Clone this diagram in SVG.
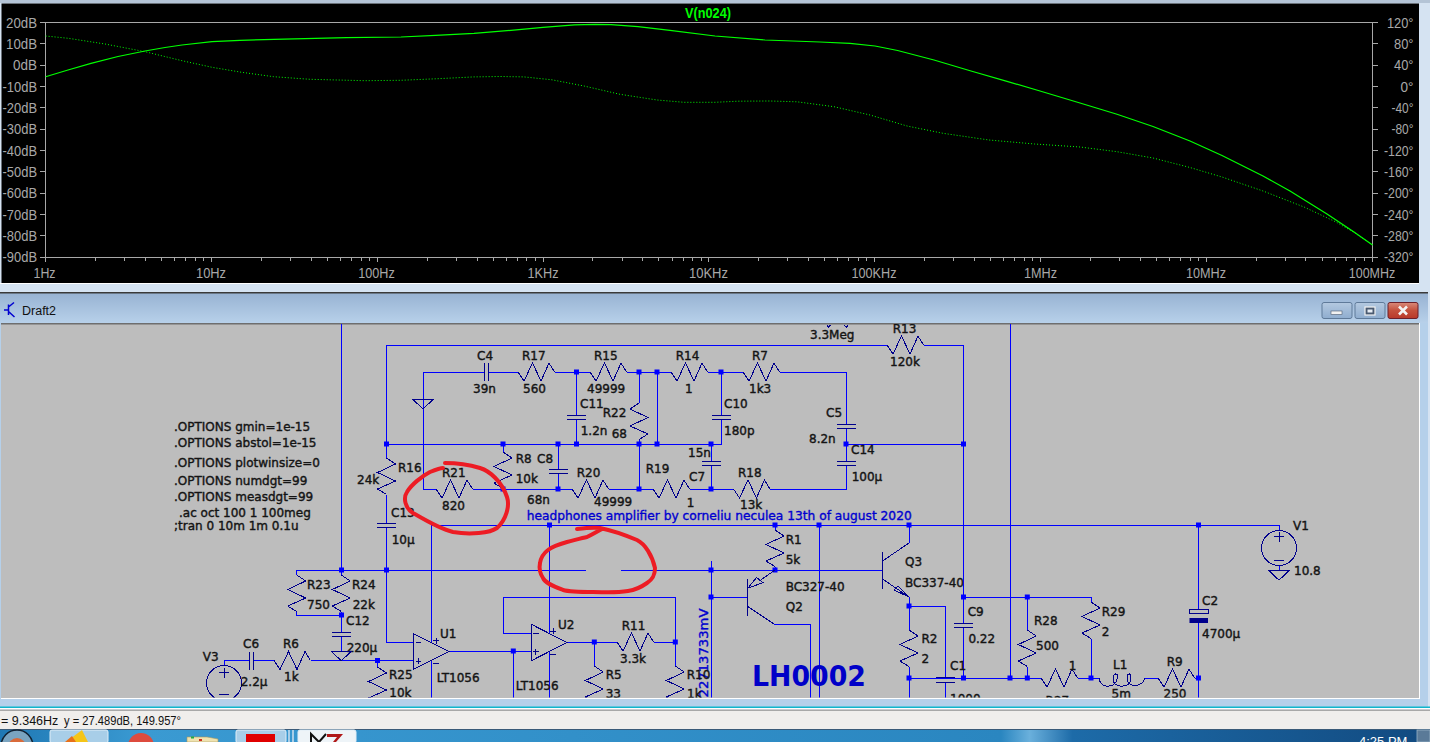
<svg xmlns="http://www.w3.org/2000/svg" width="1430" height="742" viewBox="0 0 1430 742">
<style>
.w{fill:none;stroke:#0000ff;stroke-width:1;shape-rendering:crispEdges}
.c{fill:none;stroke:#00008c;stroke-width:1;shape-rendering:crispEdges}
.t{font-family:"DejaVu Sans",sans-serif;font-size:12px;fill:#141414;stroke:#141414;stroke-width:.4}
.b{font-family:"DejaVu Sans",sans-serif;font-size:12px;fill:#0000d0;stroke:#0000d0;stroke-width:.35}
.a{font-family:"Liberation Sans",Arial,sans-serif;font-size:14px;fill:#a8a8a8}
.ax{fill:none;stroke:#a8a8a8;stroke-width:1;shape-rendering:crispEdges}
.u{font-family:"Liberation Sans",Arial,sans-serif;font-size:12.5px;fill:#111}
.red{fill:none;stroke:#ed1c24;stroke-width:4;stroke-linejoin:round;stroke-linecap:round}
.n{fill:#0000ff}
</style>
<defs>
<linearGradient id="tb" x1="0" y1="0" x2="0" y2="1"><stop offset="0" stop-color="#98b3d3"/><stop offset="1" stop-color="#b8d1ea"/></linearGradient>
<linearGradient id="tk" x1="0" y1="0" x2="1" y2="0"><stop offset="0" stop-color="#1f78b4"/><stop offset=".1" stop-color="#3a9ad2"/><stop offset=".7" stop-color="#2a86c0"/><stop offset=".72" stop-color="#6ab0dc"/><stop offset=".75" stop-color="#1d6ba8"/><stop offset="1" stop-color="#124a80"/></linearGradient>
<linearGradient id="cl" x1="0" y1="0" x2="0" y2="1"><stop offset="0" stop-color="#d98a7a"/><stop offset=".5" stop-color="#c4503c"/><stop offset="1" stop-color="#b8382a"/></linearGradient>
<linearGradient id="bt" x1="0" y1="0" x2="0" y2="1"><stop offset="0" stop-color="#b4c9e0"/><stop offset="1" stop-color="#8fadcf"/></linearGradient>
<path id="rh" class="c" d="M0 0L6 9L14.500-9L23 9L31-9L36.500 0"/>
<path id="rv" class="c" d="M0 0L9 6L-9 14.500L9 23L-9 31L0 36.500"/>
<path id="ch" class="c" d="M-9.500-2H9.500M-9.500 2.200H9.500"/>
<rect id="n" class="n" x="-2.500" y="-2.500" width="5" height="5"/>
<path id="gnd" class="c" d="M-10 0H10L0 9.500Z"/>
<g id="dec" class="ax"><path d="M0 257V262M49.900 257V261M79.100 257V261M99.800 257V261M115.900 257V261M129 257V261M140.100 257V261M149.700 257V261M158.200 257V261"/></g>
<clipPath id="sc"><rect x="1" y="324" width="1418" height="373.500"/></clipPath>
</defs>

<rect width="1430" height="742" fill="#d5e3f2"/>
<rect width="1430" height="3" fill="#b4c4d6"/>

<g id="plot">
<rect x="1.500" y="3.500" width="1417.500" height="279.500" fill="#000"/>
<rect x="0" y="283" width="1419" height="1" fill="#fff"/>
<path class="ax" d="M45.600 22.500H1372.500M45.600 22.500V257M1372.500 22.500V257M45.600 257H1372.500"/>
<path class="ax" d="M40 22.500H45.600M40 43.800H45.600M40 65.200H45.600M40 86.500H45.600M40 107.800H45.600M40 129.200H45.600M40 150.500H45.600M40 171.800H45.600M40 193.200H45.600M40 214.500H45.600M40 235.800H45.600M40 257H45.600"/>
<path class="ax" d="M1372.500 22.500H1378M1372.500 43.800H1378M1372.500 65.200H1378M1372.500 86.500H1378M1372.500 107.800H1378M1372.500 129.200H1378M1372.500 150.500H1378M1372.500 171.800H1378M1372.500 193.200H1378M1372.500 214.500H1378M1372.500 235.800H1378M1372.500 257H1378"/>
<use href="#dec" x="45.600"/><use href="#dec" x="211.400"/><use href="#dec" x="377.200"/><use href="#dec" x="543"/><use href="#dec" x="708.800"/><use href="#dec" x="874.600"/><use href="#dec" x="1040.400"/><use href="#dec" x="1206.200"/>
<path class="ax" d="M1372.500 257V262"/>
<g class="a" text-anchor="end">
<text x="37" y="27.500" textLength="31" lengthAdjust="spacingAndGlyphs">20dB</text>
<text x="37" y="48.800" textLength="31" lengthAdjust="spacingAndGlyphs">10dB</text>
<text x="37" y="70.200" textLength="24" lengthAdjust="spacingAndGlyphs">0dB</text>
<text x="37" y="91.500" textLength="34.500" lengthAdjust="spacingAndGlyphs">-10dB</text>
<text x="37" y="112.800" textLength="34.500" lengthAdjust="spacingAndGlyphs">-20dB</text>
<text x="37" y="134.200" textLength="34.500" lengthAdjust="spacingAndGlyphs">-30dB</text>
<text x="37" y="155.500" textLength="34.500" lengthAdjust="spacingAndGlyphs">-40dB</text>
<text x="37" y="176.800" textLength="34.500" lengthAdjust="spacingAndGlyphs">-50dB</text>
<text x="37" y="198.200" textLength="34.500" lengthAdjust="spacingAndGlyphs">-60dB</text>
<text x="37" y="219.500" textLength="34.500" lengthAdjust="spacingAndGlyphs">-70dB</text>
<text x="37" y="240.800" textLength="34.500" lengthAdjust="spacingAndGlyphs">-80dB</text>
<text x="37" y="262" textLength="34.500" lengthAdjust="spacingAndGlyphs">-90dB</text>
<text x="1413.500" y="27.500" textLength="26.500" lengthAdjust="spacingAndGlyphs">120°</text>
<text x="1413.500" y="48.800" textLength="19.500" lengthAdjust="spacingAndGlyphs">80°</text>
<text x="1413.500" y="70.200" textLength="19.500" lengthAdjust="spacingAndGlyphs">40°</text>
<text x="1413.500" y="91.500" textLength="13" lengthAdjust="spacingAndGlyphs">0°</text>
<text x="1413.500" y="112.800" textLength="22" lengthAdjust="spacingAndGlyphs">-40°</text>
<text x="1413.500" y="134.200" textLength="22" lengthAdjust="spacingAndGlyphs">-80°</text>
<text x="1413.500" y="155.500" textLength="29.500" lengthAdjust="spacingAndGlyphs">-120°</text>
<text x="1413.500" y="176.800" textLength="29.500" lengthAdjust="spacingAndGlyphs">-160°</text>
<text x="1413.500" y="198.200" textLength="29.500" lengthAdjust="spacingAndGlyphs">-200°</text>
<text x="1413.500" y="219.500" textLength="29.500" lengthAdjust="spacingAndGlyphs">-240°</text>
<text x="1413.500" y="240.800" textLength="29.500" lengthAdjust="spacingAndGlyphs">-280°</text>
<text x="1413.500" y="262" textLength="29.500" lengthAdjust="spacingAndGlyphs">-320°</text>
</g>
<g class="a" text-anchor="middle">
<text x="44.500" y="278" textLength="22" lengthAdjust="spacingAndGlyphs">1Hz</text>
<text x="211" y="278" textLength="30" lengthAdjust="spacingAndGlyphs">10Hz</text>
<text x="376.500" y="278" textLength="36.500" lengthAdjust="spacingAndGlyphs">100Hz</text>
<text x="543" y="278" textLength="31" lengthAdjust="spacingAndGlyphs">1KHz</text>
<text x="708.500" y="278" textLength="39" lengthAdjust="spacingAndGlyphs">10KHz</text>
<text x="874" y="278" textLength="45" lengthAdjust="spacingAndGlyphs">100KHz</text>
<text x="1040.500" y="278" textLength="33" lengthAdjust="spacingAndGlyphs">1MHz</text>
<text x="1206" y="278" textLength="40" lengthAdjust="spacingAndGlyphs">10MHz</text>
<text x="1372" y="278" textLength="46.500" lengthAdjust="spacingAndGlyphs">100MHz</text>
</g>
<text x="708" y="17.500" text-anchor="middle" font-family="Liberation Sans,Arial,sans-serif" font-size="14" font-weight="bold" fill="#00ff00" textLength="46" lengthAdjust="spacingAndGlyphs">V(n024)</text>
<path fill="none" stroke="#00ff00" stroke-width="1.200" stroke-linejoin="round" d="M45.600 76.700L68 70L91 63.300L118 56.500L145 51L165 47.500L182 45L212 41.700L240 40.300L274 39.300L346.500 37.700L401 37L435.500 35.300L474 33.300L511 30.300L543 27.300L574.500 24.900L595 24.400L611 24.700L638 26.700L670 30.300L715 36L765 40L820 42L850 43.300L875 46L897.600 50.500L934 60L971 71L1007 81.300L1040 91L1080 103L1117 114.300L1153 126.500L1190 141L1222 155.500L1263 176L1290 191L1327 214L1354 232L1372.500 245"/>
<path fill="none" stroke="#00ff00" stroke-width="1" stroke-dasharray="1 2" d="M45.600 36L68.400 38.300L105 44L145 51.700L182 60.700L212 67.300L241.700 72.300L273.600 76.700L310 79.300L365 80.700L401 80.300L438 78.700L474 76.900L500 76.500L524 76.900L552 79.800L584 86L620 94.300L657 100L684 102.300L715 102.300L738 101.200L770 101L797 101.800L834 106.700L870 115L907 126L943 133.300L989 140L1034.600 144L1080 147L1117 151.700L1153 158L1190 167.500L1222 177L1263 191L1304 207L1336 222L1355 233L1372.500 245"/>
</g>

<g id="window">
<rect x="0" y="292" width="1428" height="2" fill="#3a3a3a"/>
<rect x="0" y="293.500" width="1428" height="30" fill="url(#tb)"/>
<rect x="0" y="323" width="1428" height="384" fill="#b5d0ea"/>
<rect x="1" y="323" width="1419" height="376" fill="#fff"/>
<rect x="1" y="323" width="1418" height="375" fill="#bdbdbd"/>
<rect x="1" y="323" width="1418" height="1.500" fill="#6e6e6e"/>
<rect x="1428" y="293" width="2" height="415" fill="#d5e3f2"/>
<path d="M8.500 304.500V315M4 310H8.500M8.500 307L14 302.500M8.500 311.500L14.500 317" fill="none" stroke="#0000d0" stroke-width="1.500"/>
<text x="22" y="315" font-family="Liberation Sans,Arial,sans-serif" font-size="12.500" fill="#111">Draft2</text>
<rect x="1322" y="302.500" width="30" height="16" rx="2" fill="url(#bt)" stroke="#5f7a99"/>
<rect x="1355" y="302.500" width="30" height="16" rx="2" fill="url(#bt)" stroke="#5f7a99"/>
<rect x="1388" y="302.500" width="30" height="16" rx="2" fill="url(#cl)" stroke="#6b1f2a"/>
<rect x="1331" y="311" width="11" height="3.500" fill="#f2f2f2" stroke="#4a5a70" stroke-width=".6"/>
<rect x="1365" y="307" width="10" height="8" fill="#4a5a70" stroke="#f2f2f2" stroke-width="1.200"/>
<rect x="1367.500" y="309.500" width="5" height="3" fill="#e8eef5"/>
<path d="M1399 306.500L1407 314.500M1407 306.500L1399 314.500" stroke="#f4f4f4" stroke-width="2.600"/>
<rect x="0" y="706.500" width="1430" height="1.500" fill="#0fb6cc"/>
</g>

<g id="schematic" clip-path="url(#sc)">
<g id="wires" class="w">
<path d="M341.700 324V570M1010 324V678"/>
<path d="M386.500 345H887M923.500 345H963.500V623M963.500 627V678"/>
<path d="M386.500 345V458M386.500 494.500V523M386.500 527.500V642H413.300"/>
<path d="M423 372V489H436M472.500 489H572M608.500 489H653M689.500 489H711"/>
<path d="M423 372H484M488.300 372H518M554.500 372H590M626.500 372H671M707.500 372H743M779.500 372H846V424.500M846 428.700V461M846 465.200V489H770"/>
<path d="M386.500 444H721V419M721 415V372"/>
<path d="M846 444H963.500"/>
<path d="M576.500 372V415M576.500 419V444"/>
<path d="M558 444V469M558 473.200V489"/>
<path d="M503 444V452M503 488.500V489"/>
<path d="M639 372V403M639 439.500V489M657 372V444"/>
<path d="M711 444V461M711 465.200V489H733.500"/>
<path d="M431 525H1279V531"/>
<path d="M431 525V642M431 660V698M549.500 525V633M549.500 651V698"/>
<path d="M775 525V530M775 566.500V570"/>
<path d="M296.700 570H585.500M621 570H882"/>
<path d="M711 561V698M711 597H747"/>
<path d="M819 525V698"/>
<path d="M296.700 570V575M296.700 611.500V615H341.300M341.300 570V575M341.300 611.500V632M341.300 636.500V651"/>
<path d="M224 665V660.500H249.300M253.500 660.500H274M310.500 660.500H413.300M377.500 660.500V667"/>
<path d="M449.300 651H531.700M513.300 651V698"/>
<path d="M531.700 633H503.300V597H675.300V666M567 642H617M653.500 642H675.300M594.300 642V666"/>
<path d="M774 624H810.500V698"/>
<path d="M909 525V543M909 597V630M909 666.500V698M909 606H945.300V677M945.300 682V698"/>
<path d="M909 678H1041M1077.500 678H1099M1145 678H1158M1194.500 678H1198.500M1198.500 525V609M1198.500 623V698"/>
<path d="M963.500 597H1091V602M1091 638.500V678M1027.300 597V630M1027.300 666.500V678"/>
<path d="M1279 565V570.500"/>
</g>
<g id="junctions">
<use href="#n" x="386.500" y="444"/><use href="#n" x="503" y="444"/><use href="#n" x="558" y="444"/><use href="#n" x="576.500" y="444"/><use href="#n" x="639" y="444"/><use href="#n" x="657" y="444"/><use href="#n" x="711" y="444"/><use href="#n" x="846" y="444"/><use href="#n" x="963.500" y="444"/>
<use href="#n" x="576.500" y="372"/><use href="#n" x="639" y="372"/><use href="#n" x="657" y="372"/><use href="#n" x="721" y="372"/>
<use href="#n" x="503" y="489"/><use href="#n" x="558" y="489"/><use href="#n" x="639" y="489"/><use href="#n" x="711" y="489"/>
<use href="#n" x="549.500" y="525"/><use href="#n" x="775" y="525"/><use href="#n" x="819" y="525"/><use href="#n" x="909" y="525"/><use href="#n" x="1198.500" y="525"/>
<use href="#n" x="341.500" y="570"/><use href="#n" x="386.500" y="570"/><use href="#n" x="711" y="570"/><use href="#n" x="775" y="570"/><use href="#n" x="711" y="597"/>
<use href="#n" x="341.500" y="615"/><use href="#n" x="377.500" y="660.500"/><use href="#n" x="513.300" y="651"/><use href="#n" x="594.300" y="642"/><use href="#n" x="675.300" y="642"/>
<use href="#n" x="909" y="606"/><use href="#n" x="963.500" y="597"/><use href="#n" x="1027.300" y="597"/>
<use href="#n" x="909" y="678"/><use href="#n" x="963.500" y="678"/><use href="#n" x="1010" y="678"/><use href="#n" x="1027.300" y="678"/><use href="#n" x="1091" y="678"/><use href="#n" x="1198.500" y="678"/>
</g>
<g id="directives" class="t">
<text x="174" y="431">.OPTIONS gmin=1e-15</text>
<text x="174" y="447">.OPTIONS abstol=1e-15</text>
<text x="174" y="467">.OPTIONS plotwinsize=0</text>
<text x="174" y="484.700">.OPTIONS numdgt=99</text>
<text x="174" y="500.700">.OPTIONS measdgt=99</text>
<text x="179" y="517">.ac oct 100 1 100meg</text>
<text x="174" y="530">;tran 0 10m 1m 0.1u</text>
</g>
<text id="title" class="b" x="526.700" y="520" textLength="385" lengthAdjust="spacingAndGlyphs">headphones amplifier by corneliu neculea 13th of august 2020</text>
<text id="lh0002" x="752" y="686" font-family="DejaVu Sans,sans-serif" font-size="29" font-weight="bold" fill="#0000c8" textLength="114" lengthAdjust="spacingAndGlyphs">LH0002</text>
<text id="vlabel" class="b" transform="rotate(-90 708 697.500)" x="708" y="697.500" textLength="89" lengthAdjust="spacingAndGlyphs">22713733mV</text>

<g id="R13"><use href="#rh" x="887" y="345"/><text class="t" x="892.700" y="332.700">R13</text><text class="t" x="890" y="366">120k</text></g>
<g id="R_top"><path class="c" d="M826.700 324.700L828.700 327.300L830.700 324.700M844 324.700L846.300 327.300L848.300 324.700"/><text class="t" x="810" y="339">3.3Meg</text></g>
<g id="C4"><path class="c" d="M484 363V381M488.300 363V381"/><text class="t" x="477" y="360">C4</text><text class="t" x="473" y="392.700">39n</text></g>
<g id="R17"><use href="#rh" x="518" y="372"/><text class="t" x="522" y="360">R17</text><text class="t" x="523" y="393">560</text></g>
<g id="R15"><use href="#rh" x="590" y="372"/><text class="t" x="594" y="360">R15</text><text class="t" x="587" y="392.700">49999</text></g>
<g id="R14"><use href="#rh" x="671" y="372"/><text class="t" x="675.700" y="360">R14</text><text class="t" x="685" y="392.700">1</text></g>
<g id="R7"><use href="#rh" x="743" y="372"/><text class="t" x="752" y="360">R7</text><text class="t" x="749" y="392.700">1k3</text></g>
<g id="GND1"><use href="#gnd" x="423" y="399.500"/></g>
<g id="C11"><use href="#ch" x="576.500" y="417"/><text class="t" x="580" y="408.300">C11</text><text class="t" x="580.700" y="435">1.2n</text></g>
<g id="R22"><use href="#rv" transform="translate(639 403) scale(-1 1)"/><text class="t" x="602.700" y="416.700">R22</text><text class="t" x="611.700" y="437.700">68</text></g>
<g id="C10"><use href="#ch" x="721" y="417"/><text class="t" x="724" y="408.300">C10</text><text class="t" x="724" y="435">180p</text></g>
<g id="C5"><use href="#ch" x="846" y="426.500"/><text class="t" x="826" y="417">C5</text><text class="t" x="809" y="442.700">8.2n</text></g>
<g id="C14"><use href="#ch" x="846" y="463"/><text class="t" x="851" y="454">C14</text><text class="t" x="851.700" y="480.700">100µ</text></g>
<g id="C7"><use href="#ch" x="711" y="463"/><text class="t" x="688" y="457">15n</text><text class="t" x="689" y="481">C7</text></g>
<g id="C8"><use href="#ch" x="558" y="471"/><text class="t" x="537" y="462.700">C8</text><text class="t" x="527" y="503.700">68n</text></g>
<g id="R8"><use href="#rv" x="503" y="452"/><text class="t" x="515.700" y="462.700">R8</text><text class="t" x="515.700" y="482.700">10k</text></g>
<g id="R16"><use href="#rv" x="386.500" y="458"/><text class="t" x="398" y="472">R16</text><text class="t" x="357" y="484">24k</text></g>
<g id="R21"><use href="#rh" x="436" y="489"/><text class="t" x="442" y="477">R21</text><text class="t" x="442" y="510">820</text></g>
<g id="R20"><use href="#rh" x="572" y="489"/><text class="t" x="576.700" y="476.700">R20</text><text class="t" x="594" y="505.700">49999</text></g>
<g id="R19"><use href="#rh" x="653" y="489"/><text class="t" x="645.700" y="472.700">R19</text><text class="t" x="686.700" y="506.700">1</text></g>
<g id="R18"><use href="#rh" x="733.500" y="489"/><text class="t" x="738" y="476.700">R18</text><text class="t" x="740" y="509">13k</text></g>
<g id="C13"><use href="#ch" x="386.500" y="525.200"/><text class="t" x="391" y="516.700">C13</text><text class="t" x="391.700" y="544">10µ</text></g>
<g id="R23"><use href="#rv" x="296.700" y="575"/><text class="t" x="307" y="589">R23</text><text class="t" x="307" y="609">750</text></g>
<g id="R24"><use href="#rv" x="341.300" y="575"/><text class="t" x="352" y="589">R24</text><text class="t" x="352.700" y="609">22k</text></g>
<g id="C12"><use href="#ch" x="341.300" y="634.300"/><text class="t" x="346" y="625">C12</text><text class="t" x="346.700" y="652">220µ</text></g>
<g id="GND2"><use href="#gnd" x="341.300" y="651.300"/></g>
<g id="V3"><circle class="c" cx="224" cy="683" r="17.500"/><path class="c" d="M219 672.700H229M224 667.700V677.700M219 694.300H229"/><text class="t" x="202.700" y="660.700">V3</text></g>
<g id="C6"><path class="c" d="M249.300 652V670M253.500 652V670"/><text class="t" x="243" y="648">C6</text><text class="t" x="240.700" y="686">2.2µ</text></g>
<g id="R6"><use href="#rh" x="274" y="660.500"/><text class="t" x="283" y="648">R6</text><text class="t" x="284" y="680.700">1k</text></g>
<g id="R25"><use href="#rv" x="377.500" y="667"/><text class="t" x="389" y="679">R25</text><text class="t" x="389.300" y="697">10k</text></g>
<g id="U1"><path class="c" d="M413.300 633.500V669.500L449.300 651.500Z"/><path class="c" d="M415.500 642.500H421M415.500 661H421M418.200 658V664M433 640.500H439M436 637.500V643.500M433 663H439"/><text class="t" x="440" y="638">U1</text><text class="t" x="436.700" y="681.700">LT1056</text></g>
<g id="U2"><path class="c" d="M531.700 624.500V660.500L567 642.500Z"/><path class="c" d="M533 633.500H538.500M533 651.500H538.500M535.800 648.500V654.500M550 631H556M553 628V634M550 654H556"/><text class="t" x="558" y="629">U2</text><text class="t" x="515.700" y="690">LT1056</text></g>
<g id="R11"><use href="#rh" x="617" y="642"/><text class="t" x="621.700" y="630">R11</text><text class="t" x="620" y="662.700">3.3k</text></g>
<g id="R5"><use href="#rv" x="594.300" y="666"/><text class="t" x="605.700" y="679">R5</text><text class="t" x="605.700" y="698">33</text></g>
<g id="R10"><use href="#rv" x="675.300" y="666"/><text class="t" x="686.700" y="679">R10</text><text class="t" x="687" y="698">1k</text></g>
<g id="R1"><use href="#rv" x="775" y="530"/><text class="t" x="785.700" y="544">R1</text><text class="t" x="785.700" y="564">5k</text></g>
<g id="Q2"><path class="c" d="M747 579V616M775 570L760 580.500M747 606L774 624M748 588L756.500 577.500L763 582.700Z"/><text class="t" x="785.700" y="590.700">BC327-40</text><text class="t" x="785.700" y="611">Q2</text></g>
<g id="Q3"><path class="c" d="M882.500 552V588.500M882.500 561L909 543M882.500 579L909 597M909 597L894 590L898 586Z"/><text class="t" x="905" y="565.700">Q3</text><text class="t" x="905" y="586.700">BC337-40</text></g>
<g id="R2"><use href="#rv" x="909" y="630"/><text class="t" x="921.400" y="642.700">R2</text><text class="t" x="921.400" y="663">2</text></g>
<g id="C1"><path class="c" d="M936 677.500H955M936 682.500H955"/><text class="t" x="950" y="670">C1</text><text class="t" x="950" y="703">1000</text></g>
<g id="C9"><use href="#ch" x="963.500" y="625"/><text class="t" x="967.700" y="615.700">C9</text><text class="t" x="968.400" y="642.700">0.22</text></g>
<g id="R28"><use href="#rv" x="1027.300" y="630"/><text class="t" x="1034" y="625">R28</text><text class="t" x="1036" y="650">500</text></g>
<g id="R29"><use href="#rv" x="1091" y="602"/><text class="t" x="1101.700" y="615.700">R29</text><text class="t" x="1101.700" y="636">2</text></g>
<g id="R27"><use href="#rh" x="1041" y="678"/><text class="t" x="1068.800" y="670">1</text><text class="t" x="1045.600" y="705">R27</text></g>
<g id="L1"><path class="c" d="M1099 678C1100 688 1112 688 1116 682C1120 672 1114 672 1113 678C1112 688 1128 688 1130 682C1133 672 1127 672 1127 678C1127 688 1142 688 1145 678"/><text class="t" x="1113" y="669">L1</text><text class="t" x="1111.600" y="698">5m</text></g>
<g id="R9"><use href="#rh" x="1158" y="678"/><text class="t" x="1166.700" y="666">R9</text><text class="t" x="1163.500" y="698">250</text></g>
<g id="C2"><rect class="c" x="1189.500" y="609" width="18.500" height="4.700"/><rect x="1189.500" y="618" width="18.500" height="5" fill="#00008c"/><text class="t" x="1202" y="605">C2</text><text class="t" x="1202" y="638">4700µ</text></g>
<g id="V1"><circle class="c" cx="1279" cy="548" r="17.500"/><path class="c" d="M1274 536.700H1284M1279 531.700V541.700M1274 560H1284"/><use href="#gnd" x="1279" y="570.700"/><text class="t" x="1293" y="530">V1</text><text class="t" x="1294" y="575">10.8</text></g>
</g>

<g id="annotations">
<path class="red" d="M445 463C457 463 470 465 480 468C490 471 502 482 507 497C510 506 506 520 497 528C490 533 470 535 453 532C440 529 425 520 413 513C405 508 403 498 407 492C411 485 422 476 430 472C435 470 440 468 443 468"/>
<path class="red" d="M577 529C585 528 593 527 600 528C610 530 625 535 637 540C645 544 652 555 655 568C655 575 653 579 647 583C640 588 635 590 628 591C615 593 605 592 593 592C580 592 570 592 563 590C553 586 545 583 543 578C539 572 539 568 540 563C541 557 544 553 548 550C553 546 560 544 567 542C575 540 582 538 587 537C593 534 598 531 602 529"/>
</g>

<g id="statusbar">
<rect x="0" y="708" width="1430" height="1.500" fill="#fff"/>
<rect x="0" y="709.500" width="1430" height="1.500" fill="#a8a8a8"/>
<rect x="0" y="711" width="1430" height="18" fill="#f0eeec"/>
<text class="u" x="1" y="724.500">= 9.346Hz</text>
<text class="u" x="64" y="724.500" textLength="117" lengthAdjust="spacingAndGlyphs">y = 27.489dB, 149.957°</text>
</g>

<g id="taskbar">
<rect x="0" y="729" width="1430" height="13" fill="url(#tk)"/>
<rect x="0" y="729" width="1430" height="1" fill="#3a5a78"/>
<circle cx="17" cy="746" r="16" fill="#7aa4c0" stroke="#123" stroke-width="1.500"/>
<circle cx="17" cy="747" r="9" fill="#d96a3a"/>
<rect x="50" y="730" width="58" height="13" rx="2" fill="#a8cee8" stroke="#dfeef8"/>
<path d="M66 742L78 733L82 730L88 742Z" fill="#f5c518"/><path d="M65 742L72 736L76 742Z" fill="#e8701a"/>
<circle cx="141" cy="746" r="13" fill="#dd4b3e"/>
<path d="M187 742V737H207L218 739V742Z" fill="#efe3b0" stroke="#a89860" stroke-width=".6"/>
<rect x="191" y="736.500" width="3" height="2" fill="#22aa44"/><rect x="199" y="739" width="3" height="2" fill="#d03020"/>
<rect x="236" y="730" width="50" height="13" rx="2" fill="#a8cee8" stroke="#dfeef8"/>
<rect x="246" y="734" width="29" height="9" fill="#e00000"/>
<rect x="288" y="730" width="2" height="13" fill="#a8cee8"/><rect x="292" y="730" width="2" height="13" fill="#a8cee8"/>
<rect x="298" y="730" width="58" height="13" rx="2" fill="#eef4f8" stroke="#dfeef8"/>
<path d="M311 742V734L319 742L326 734" fill="none" stroke="#111" stroke-width="2"/>
<path d="M327 734H343L336 742H333L337 737H327Z" fill="#b01818"/>
<text x="1359" y="746" font-family="Liberation Sans,Arial,sans-serif" font-size="13" fill="#fff">4:25 PM</text>
<rect x="1417" y="730" width="13" height="12" fill="#5a7a98" stroke="#9ab4c8" stroke-width=".8"/>
</g>
</svg>
